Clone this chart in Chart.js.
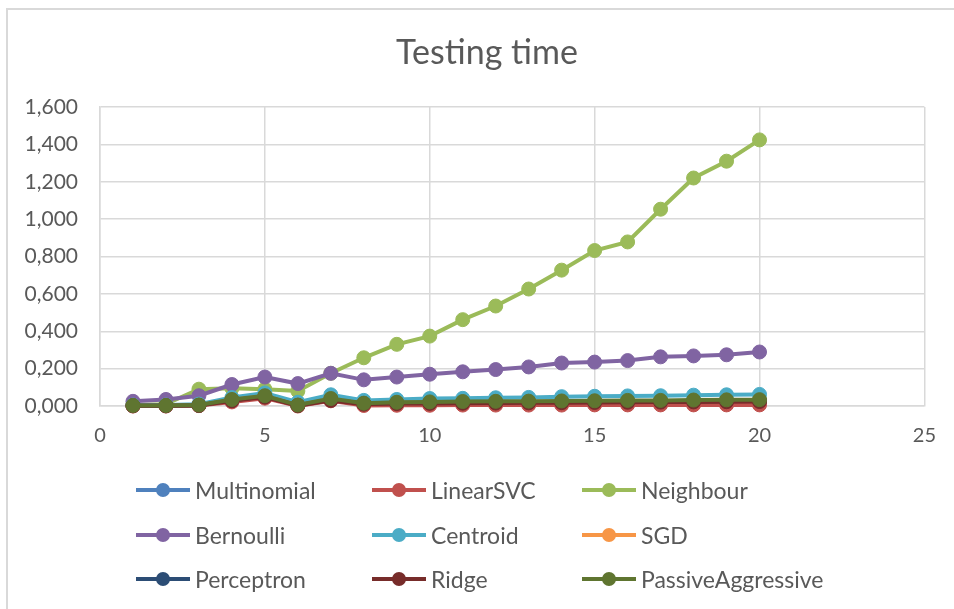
<!DOCTYPE html>
<html>
<head>
<meta charset="utf-8">
<script src="https://cdn.jsdelivr.net/npm/chart.js@4"></script>
<style>
    html, body {
        margin: 0;
        padding: 0;
        background: #ffffff;
    }
    #wrap {
        position: relative;
        width: 954px;
        height: 609px;
        overflow: hidden;
        font-family: Lato, "Open Sans", sans-serif;
    }
    .frame {
        position: absolute;
        left: 6px;
        top: 8px;
        width: 1000px;
        height: 700px;
        border-left: 2px solid #d9d9d9;
        border-top: 2px solid #d9d9d9;
    }
    #chart {
        position: absolute;
        left: 0;
        top: 0;
    }
    .title {
        position: absolute;
        left: 287px;
        width: 400px;
        top: 31px;
        line-height: 40px;
        text-align: center;
        font-size: 34px;
        color: #595959;
    }
    #legend {
        position: absolute;
        left: 136px;
        top: 468px;
        display: grid;
        grid-template-columns: 236px 210px 260px;
        grid-auto-rows: 44.5px;
    }
    .item {
        display: flex;
        align-items: center;
        font-size: 23px;
        color: #595959;
        white-space: nowrap;
    }
    .swatch {
        position: relative;
        width: 54px;
        height: 4px;
        margin-right: 5px;
    }
    .swatch::after {
        content: '';
        position: absolute;
        left: 20px;
        top: -5px;
        width: 14px;
        height: 14px;
        border-radius: 50%;
        background: inherit;
    }
</style>
</head>
<body>
<div id="wrap">
    <div class="frame"></div>
    <canvas id="chart" width="954" height="609"></canvas>
    <div class="title">Testing time</div>
    <div id="legend"></div>
</div>
<script>
// runs 1..20
const xValues = [1, 2, 3, 4, 5, 6, 7, 8, 9, 10, 11, 12, 13, 14, 15, 16, 17, 18, 19, 20];

const multinomial = [0.002, 0.002, 0.004, 0.030, 0.050, 0.004, 0.035, 0.012, 0.015, 0.016, 0.018, 0.019, 0.020, 0.021, 0.022, 0.023, 0.024, 0.025, 0.026, 0.027];
const linearSVC = [0.000, 0.000, 0.002, 0.022, 0.042, 0.000, 0.028, 0.003, 0.004, 0.004, 0.005, 0.005, 0.005, 0.005, 0.006, 0.006, 0.006, 0.006, 0.006, 0.006];
const neighbour = [0.005, 0.010, 0.090, 0.095, 0.090, 0.080, 0.175, 0.258, 0.330, 0.374, 0.462, 0.535, 0.626, 0.727, 0.832, 0.878, 1.053, 1.220, 1.310, 1.424];
const bernoulli = [0.025, 0.035, 0.055, 0.115, 0.155, 0.120, 0.175, 0.140, 0.155, 0.170, 0.183, 0.195, 0.209, 0.230, 0.235, 0.243, 0.263, 0.268, 0.274, 0.289];
const centroid = [0.005, 0.005, 0.010, 0.045, 0.070, 0.020, 0.060, 0.030, 0.035, 0.040, 0.041, 0.044, 0.046, 0.050, 0.052, 0.054, 0.055, 0.058, 0.060, 0.062];
const sgd = [0.002, 0.002, 0.004, 0.032, 0.052, 0.004, 0.036, 0.013, 0.017, 0.018, 0.020, 0.021, 0.022, 0.023, 0.024, 0.025, 0.026, 0.027, 0.028, 0.029];
const perceptron = [0.002, 0.002, 0.004, 0.031, 0.051, 0.004, 0.035, 0.013, 0.016, 0.017, 0.019, 0.020, 0.021, 0.022, 0.023, 0.024, 0.025, 0.026, 0.027, 0.028];
const ridge = [0.001, 0.001, 0.003, 0.028, 0.048, 0.002, 0.030, 0.010, 0.013, 0.014, 0.015, 0.016, 0.017, 0.018, 0.019, 0.020, 0.021, 0.022, 0.023, 0.024];
const passiveAggressive = [0.003, 0.003, 0.005, 0.035, 0.055, 0.005, 0.040, 0.015, 0.020, 0.022, 0.024, 0.025, 0.026, 0.027, 0.028, 0.030, 0.030, 0.032, 0.033, 0.034];

const seriesNames = ['Multinomial', 'LinearSVC', 'Neighbour', 'Bernoulli', 'Centroid', 'SGD', 'Perceptron', 'Ridge', 'PassiveAggressive'];
const seriesValues = [multinomial, linearSVC, neighbour, bernoulli, centroid, sgd, perceptron, ridge, passiveAggressive];
const colors = ['#4f81bd', '#c0504d', '#9bbb59', '#8064a2', '#4bacc6', '#f79646', '#2c4d75', '#772c2a', '#5f7530'];

const yTickLabels = ['0,000', '0,200', '0,400', '0,600', '0,800', '1,000', '1,200', '1,400', '1,600'];
const xTickLabels = ['0', '5', '10', '15', '20', '25'];

const textColor = '#595959';
const gridColor = '#d9d9d9';
const fontFamily = 'Lato, "Open Sans", sans-serif';

const datasets = seriesNames.map((name, i) => ({
    label: name,
    data: xValues.map((x, j) => ({ x: x, y: seriesValues[i][j] })),
    borderColor: colors[i],
    backgroundColor: colors[i],
    pointBackgroundColor: colors[i],
    pointBorderColor: colors[i],
    borderWidth: 4,
    pointRadius: 7,
    pointBorderWidth: 1,
    tension: 0,
    clip: false,
    // later series are drawn on top, as in the original
    order: seriesNames.length - i
}));

new Chart(document.getElementById('chart'), {
    type: 'line',
    data: { datasets: datasets },
    options: {
        responsive: false,
        animation: false,
        // title and legend are html, space is kept for them here
        layout: { padding: { left: 10, right: 29, top: 107, bottom: 163 } },
        plugins: {
            legend: { display: false },
            tooltip: { enabled: false }
        },
        scales: {
            x: {
                type: 'linear',
                min: 0,
                max: 25,
                ticks: {
                    stepSize: 5,
                    padding: 18,
                    color: textColor,
                    font: { family: fontFamily, size: 20 },
                    callback: (v) => xTickLabels[Math.round(v / 5)]
                },
                grid: { color: gridColor, lineWidth: 1.5, drawTicks: false },
                border: { color: gridColor, width: 1.5 },
                afterFit: (scale) => { scale.height = 40; }
            },
            y: {
                min: 0,
                max: 1.6,
                ticks: {
                    stepSize: 0.2,
                    padding: 22,
                    color: textColor,
                    font: { family: fontFamily, size: 21 },
                    callback: (v) => yTickLabels[Math.round(v / 0.2)]
                },
                grid: { color: gridColor, lineWidth: 1.5, drawTicks: false },
                border: { color: gridColor, width: 1.5 },
                afterFit: (scale) => { scale.width = 90; }
            }
        }
    }
});

// legend in three columns, like the original
const legendEl = document.getElementById('legend');
seriesNames.forEach((name, i) => {
    const item = document.createElement('div');
    item.className = 'item';
    item.innerHTML = `<span class="swatch" style="background:${colors[i]}"></span>${name}`;
    legendEl.appendChild(item);
});
</script>
</body>
</html>
